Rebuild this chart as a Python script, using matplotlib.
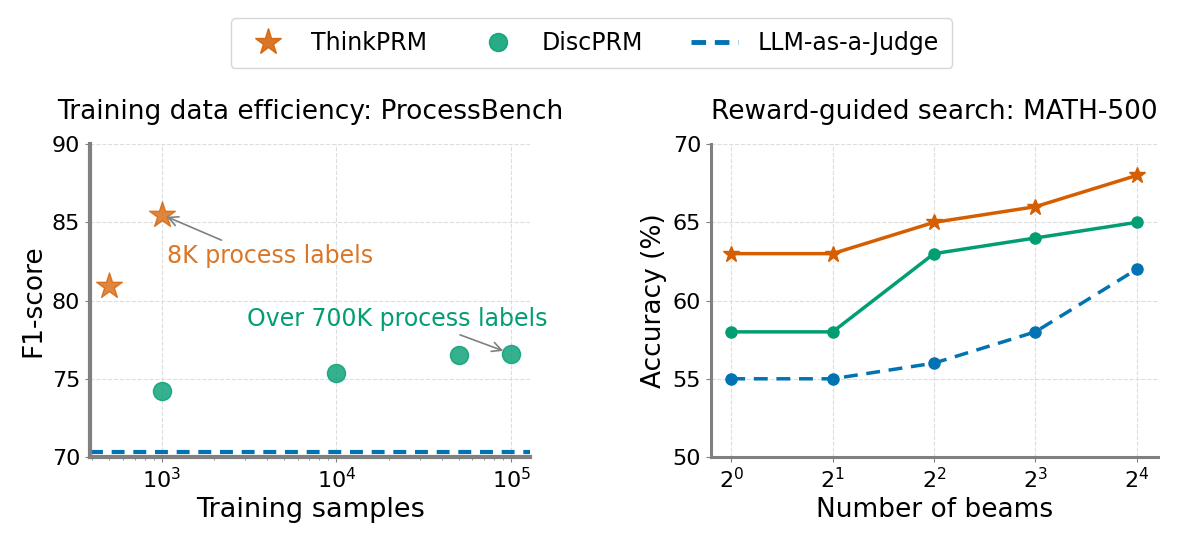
import matplotlib
matplotlib.use("Agg")
import matplotlib.pyplot as plt
from matplotlib.lines import Line2D

# ---- data ----
think_x_left = [500, 1000]
think_y_left = [80.9, 85.5]
disc_x_left = [1000, 10000, 50000, 100000]
disc_y_left = [74.2, 75.4, 76.5, 76.6]
judge_left = 70.3

beams = [1, 2, 4, 8, 16]
beam_labels = ["$2^0$", "$2^1$", "$2^2$", "$2^3$", "$2^4$"]
think_acc = [63, 63, 65, 66, 68]
disc_acc = [58, 58, 63, 64, 65]
judge_acc = [55, 55, 56, 58, 62]

ORANGE = "#D55E00"
GREEN = "#029E73"
BLUE = "#0173B2"
SPINE = "#808080"

plt.rcParams['font.family'] = ['DejaVu Sans']

fig = plt.figure(figsize=(12, 5.46), dpi=100)
ax1 = fig.add_axes([0.075, 0.163, 0.367, 0.573])
ax2 = fig.add_axes([0.5925, 0.163, 0.3725, 0.573])

# ---- left ----
ax1.set_xscale('log')
ax1.scatter(think_x_left, think_y_left, marker='*', s=380, color=ORANGE, alpha=0.75,
            edgecolor=ORANGE, linewidth=1, zorder=3)
ax1.scatter(disc_x_left, disc_y_left, marker='o', s=170, color=GREEN, alpha=0.8,
            edgecolor=GREEN, linewidth=1, zorder=3)
ax1.axhline(judge_left, color=BLUE, linestyle='--', linewidth=3, dashes=(3.1, 2.1), zorder=2)
ax1.set_xlim(10**2.59, 10**5.11)
ax1.set_ylim(70, 90)
ax1.set_yticks([70, 75, 80, 85, 90])
ax1.set_xticks([1e3, 1e4, 1e5])
ax1.set_xlabel("Training samples", fontsize=19.5)
ax1.set_ylabel("F1-score", fontsize=19)
ax1.set_title("Training data efficiency: ProcessBench", fontsize=19, pad=18)
ax1.annotate("8K process labels", xy=(think_x_left[1], think_y_left[1]),
             xytext=(1067, 82.4), color=ORANGE, fontsize=17, alpha=0.85,
             arrowprops=dict(arrowstyle='->', color='gray', lw=1.2,
                             relpos=(0.31, 1.0), shrinkA=2, shrinkB=4))
ax1.annotate("Over 700K process labels", xy=(disc_x_left[3], disc_y_left[3]),
             xytext=(3090, 78.4), color=GREEN, fontsize=17,
             arrowprops=dict(arrowstyle='->', color='gray', lw=1.2,
                             relpos=(0.67, 0.0), shrinkA=3, shrinkB=6))
for s in ['top', 'right']:
    ax1.spines[s].set_visible(False)
for s in ['left', 'bottom']:
    ax1.spines[s].set_color(SPINE)
    ax1.spines[s].set_linewidth(3)
ax1.tick_params(axis='both', labelsize=16, color=SPINE)
ax1.tick_params(axis='x', which='minor', color=SPINE)
ax1.grid(True, which='major', linestyle='--', color='#dddddd', linewidth=0.8)

# ---- right ----
ax2.set_xscale('log', base=2)
ax2.plot(beams, think_acc, color=ORANGE, marker='*', markersize=12, linewidth=2.5)
ax2.plot(beams, disc_acc, color=GREEN, marker='o', markersize=8, linewidth=2.5)
ax2.plot(beams, judge_acc, color=BLUE, marker='o', markersize=8, linewidth=2.5,
         linestyle='--', dashes=(4, 2.5))
ax2.set_xlim(2 ** -0.2, 2 ** 4.21)
ax2.set_ylim(50, 70)
ax2.set_yticks([50, 55, 60, 65, 70])
ax2.set_xticks(beams)
ax2.set_xticklabels(beam_labels)
ax2.minorticks_off()
ax2.set_xlabel("Number of beams", fontsize=19)
ax2.set_ylabel("Accuracy (%)", fontsize=19)
ax2.set_title("Reward-guided search: MATH-500", fontsize=19, pad=18)
for s in ['top', 'right']:
    ax2.spines[s].set_visible(False)
for s in ['left', 'bottom']:
    ax2.spines[s].set_color(SPINE)
    ax2.spines[s].set_linewidth(2.2)
ax2.tick_params(axis='both', labelsize=16, color=SPINE)
ax2.grid(True, which='major', linestyle='--', color='#dddddd', linewidth=0.8)

# ---- legend ----
handles = [
    Line2D([], [], marker='*', color=ORANGE, linestyle='none', markersize=20, alpha=0.85),
    Line2D([], [], marker='o', color=GREEN, linestyle='none', markersize=13, alpha=0.85),
    Line2D([], [], color=BLUE, linestyle='--', linewidth=3.5, dashes=(3, 1.8)),
]
fig.legend(handles, ["ThinkPRM", "DiscPRM", "LLM-as-a-Judge"], loc='upper center',
           bbox_to_anchor=(0.493, 0.988), ncol=3, fontsize=17, frameon=True,
           edgecolor='#cccccc', columnspacing=2.0, handletextpad=0.85, handlelength=2,
           borderpad=0.55)

fig.savefig("out.png", dpi=100)
